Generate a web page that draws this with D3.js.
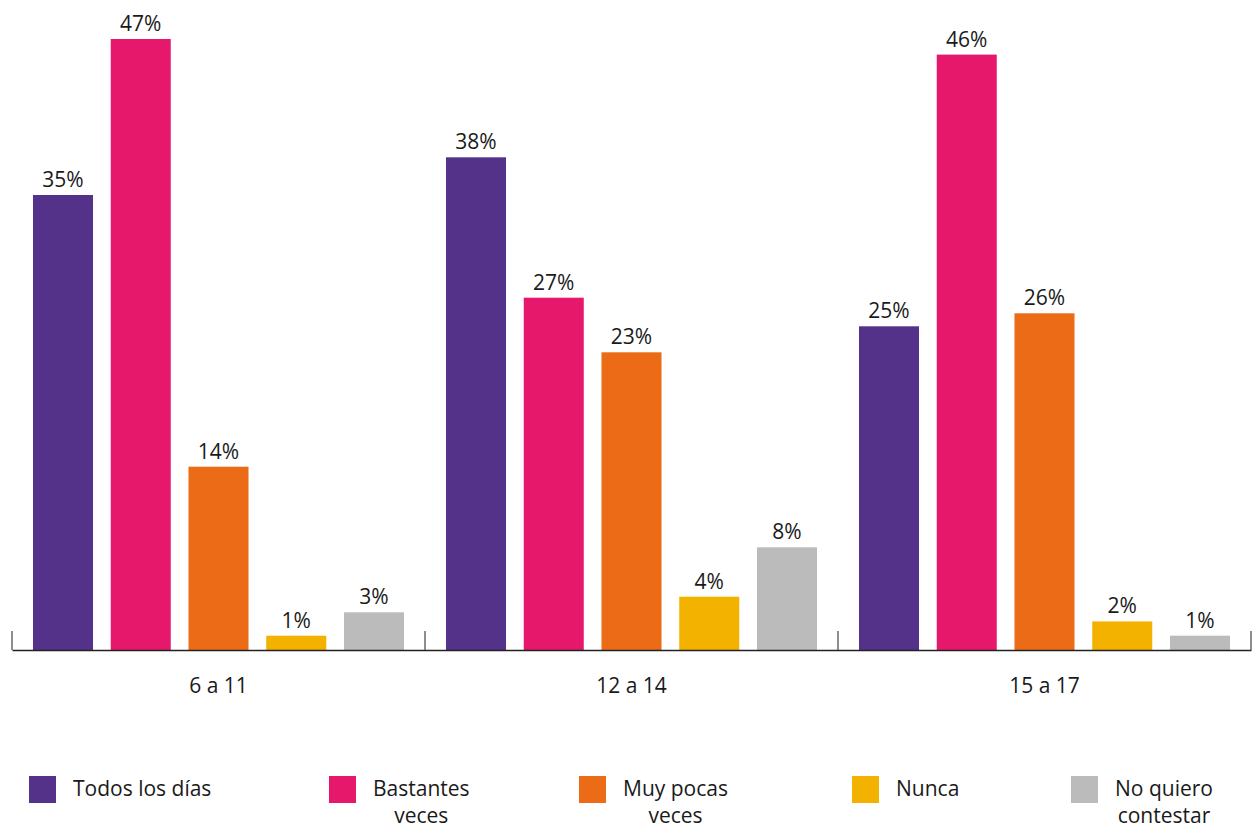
<!DOCTYPE html>
<html>
<head>
<meta charset="utf-8">
<script src="https://cdn.jsdelivr.net/npm/d3@7"></script>
<style>
  body { margin: 0; background: #fff; }
  text { font-family: "Open Sans", sans-serif; fill: #1a1a1a; }
</style>
</head>
<body>
<div class="root"></div>
<script>
// age groups and answer categories
var groups = ['6 a 11', '12 a 14', '15 a 17'];
var answers = ['Todos los días', 'Bastantes veces', 'Muy pocas veces', 'Nunca', 'No quiero contestar'];
var legendLines = [['Todos los días'], ['Bastantes', 'veces'], ['Muy pocas', 'veces'], ['Nunca'], ['No quiero', 'contestar']];
var colors = ['#543289', '#e6186b', '#ec6b17', '#f4b200', '#bbbbbb'];

// percentages per group (labels are rounded)
var todos    = [35, 37.9, 24.9];
var bastante = [47, 27.1, 45.8];
var pocas    = [14.1, 22.9, 25.9];
var nunca    = [1.1, 4.1, 2.2];
var noQuiero = [2.9, 7.9, 1.1];

var series = [todos, bastante, pocas, nunca, noQuiero];

var w = 1252, h = 830;
var baseY = 650;

var svg = d3.select('.root').append('svg')
  .attr('width', w)
  .attr('height', h);

var x0 = d3.scaleBand()
  .domain(groups)
  .range([12, 1251])
  .padding(0);

var x1 = d3.scaleBand()
  .domain(answers)
  .range([0, x0.bandwidth()])
  .paddingInner(0.228)
  .paddingOuter(0.27);

var y = d3.scaleLinear()
  .domain([0, 50])
  .range([baseY, 0]);

var rows = [];
groups.forEach(function(g, gi) {
  answers.forEach(function(a, ai) {
    rows.push({ group: g, answer: a, value: series[ai][gi], color: colors[ai] });
  });
});

var bars = svg.append('g');

bars.selectAll('rect')
  .data(rows)
  .enter().append('rect')
    .attr('x', function(d) { return x0(d.group) + x1(d.answer); })
    .attr('y', function(d) { return y(d.value); })
    .attr('width', x1.bandwidth())
    .attr('height', function(d) { return baseY - y(d.value); })
    .attr('fill', function(d) { return d.color; });

bars.selectAll('text')
  .data(rows)
  .enter().append('text')
    .attr('x', function(d) { return x0(d.group) + x1(d.answer) + x1.bandwidth() / 2; })
    .attr('y', function(d) { return y(d.value) - 8; })
    .attr('text-anchor', 'middle')
    .style('font-size', '21px')
    .text(function(d) { return Math.round(d.value) + '%'; });

// baseline with category labels
var axis = svg.append('g')
  .attr('transform', 'translate(0,' + baseY + ')')
  .call(d3.axisBottom(x0).tickSize(0).tickPadding(28).tickSizeOuter(0));

axis.select('.domain').attr('stroke', '#222').attr('stroke-width', 1.5);
axis.selectAll('text')
  .style('font-family', '"Open Sans", sans-serif')
  .style('font-size', '21px')
  .attr('fill', '#1a1a1a');

// separator ticks between groups
var bounds = groups.map(function(g) { return x0(g); }).concat([x0.range()[1]]);
svg.append('g').selectAll('line')
  .data(bounds)
  .enter().append('line')
    .attr('x1', function(d) { return d; })
    .attr('x2', function(d) { return d; })
    .attr('y1', baseY - 19)
    .attr('y2', baseY)
    .attr('stroke', '#444')
    .attr('stroke-width', 1.2);

// legend
var legendX = [29, 329, 579, 852, 1071];
var legend = svg.append('g').selectAll('g')
  .data(answers)
  .enter().append('g')
    .attr('transform', function(d, i) { return 'translate(' + legendX[i] + ',776)'; });

legend.append('rect')
  .attr('width', 27)
  .attr('height', 27)
  .attr('fill', function(d, i) { return colors[i]; });

legend.each(function(d, i) {
  var g = d3.select(this);
  var t = g.append('text')
    .style('font-size', '21px')
    .attr('y', 20);
  var lines = legendLines[i];
  t.append('tspan').attr('x', 44).text(lines[0]);
  if (lines.length > 1) {
    var wd = t.node().getComputedTextLength();
    t.attr('text-anchor', 'middle');
    t.select('tspan').attr('x', 44 + wd / 2);
    t.append('tspan')
      .attr('x', 44 + wd / 2)
      .attr('dy', 27)
      .text(lines[1]);
  }
});
</script>
</body>
</html>
